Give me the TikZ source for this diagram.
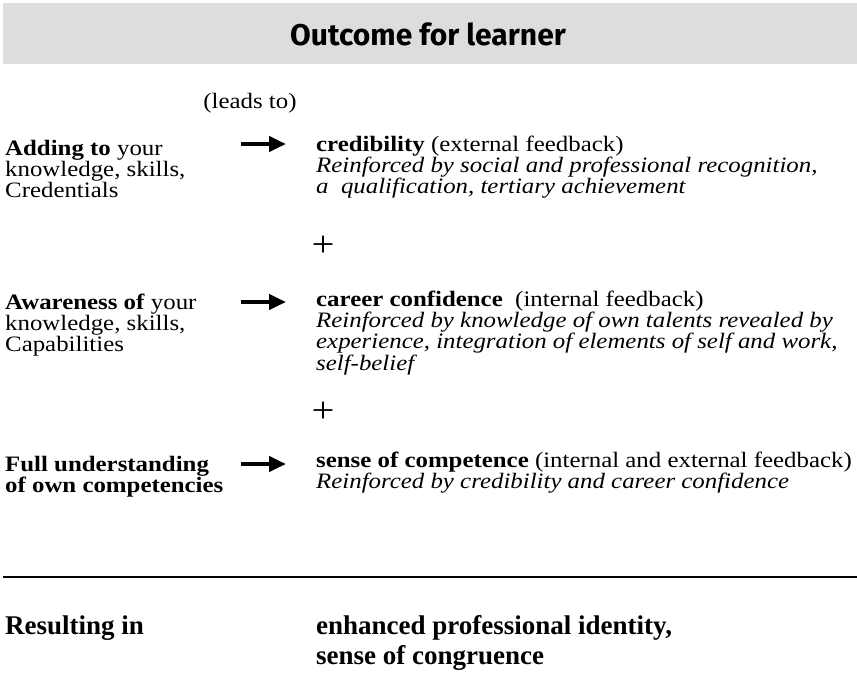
\documentclass[tikz,border=0pt]{standalone}
\usepackage{fontspec}
\setmainfont{Liberation Serif}[FakeStretch=1.13]
\newfontfamily\resultfont{Liberation Serif}
\newfontfamily\headfont{Fira Sans}
\usetikzlibrary{arrows.meta}
\definecolor{headgray}{HTML}{DCDDDF}
\tikzset{
  body/.style={anchor=base west, inner sep=0pt, font=\fontsize{22}{22}\selectfont},
  note/.style={body, font=\fontsize{22}{22}\selectfont\itshape},
  strong/.style={body, font=\fontsize{22}{22}\selectfont\bfseries},
  result/.style={anchor=base west, inner sep=0pt, font=\resultfont\fontsize{27}{27}\selectfont\bfseries},
  plus/.style={anchor=center, inner sep=0pt, font=\fontsize{36}{36}\selectfont},
  leadarrow/.style={line width=4pt, -{Triangle[length=17pt,width=15pt]}},
}
\begin{document}
\begin{tikzpicture}[x=1pt, y=-1pt]
\useasboundingbox (0,0) rectangle (857,680);
% header band
\fill[headgray] (3,3) rectangle (857,64);
\node[font=\headfont\fontsize{30}{30}\selectfont\bfseries] (head) at (428,34) {Outcome for learner};

\node[body, anchor=base] (leads) at (250,108) {(leads to)};

% first row
\node[body] (a1) at (5,155) {\textbf{Adding to} your};
\node[body] (a2) at (5,176) {knowledge, skills,};
\node[body] (a3) at (5,197) {Credentials};
\node[body] (b1) at (316,151) {\textbf{credibility} (external feedback)};
\node[note] (b2) at (316,172) {Reinforced by social and professional recognition,};
\node[note] (b3) at (316,193) {a\ \ qualification, tertiary achievement};
\coordinate (r1s) at (241,144);
\coordinate (r1e) at (286,144);
\draw[leadarrow] (r1s) -- (r1e);

\node[plus] (p1) at (323,246) {+};

% second row
\node[body] (c1) at (5,309) {\textbf{Awareness of} your};
\node[body] (c2) at (5,330) {knowledge, skills,};
\node[body] (c3) at (5,351) {Capabilities};
\node[body] (d1) at (316,306) {\textbf{career confidence}\ \ (internal feedback)};
\node[note] (d2) at (316,327) {Reinforced by knowledge of own talents revealed by};
\node[note] (d3) at (316,348) {experience, integration of elements of self and work,};
\node[note] (d4) at (316,370) {self-belief};
\coordinate (r2s) at (241,302);
\coordinate (r2e) at (286,302);
\draw[leadarrow] (r2s) -- (r2e);

\node[plus] (p2) at (323,412) {+};

% third row
\node[strong] (e1) at (5,471) {Full understanding};
\node[strong] (e2) at (5,492) {of own competencies};
\node[body] (f1) at (316,467) {\textbf{sense of competence} (internal and external feedback)};
\node[note] (f2) at (316,488) {Reinforced by credibility and career confidence};
\coordinate (r3s) at (241,464);
\coordinate (r3e) at (286,464);
\draw[leadarrow] (r3s) -- (r3e);

% separator
\coordinate (sepl) at (3,577);
\coordinate (sepr) at (857,577);
\draw[line width=1.5pt] (sepl) -- (sepr);

% result
\node[result] (g1) at (5,634) {Resulting in};
\node[result] (h1) at (316,634) {enhanced professional identity,};
\node[result] (h2) at (316,664) {sense of congruence};
\end{tikzpicture}
\end{document}
